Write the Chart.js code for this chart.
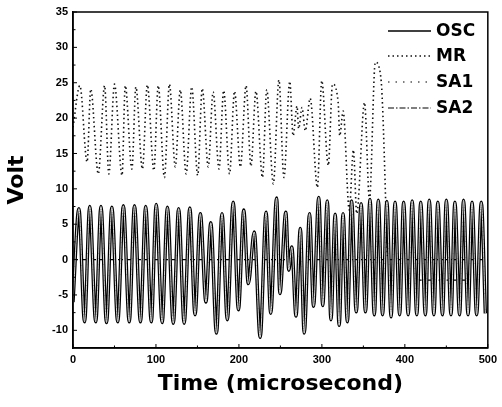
<!DOCTYPE html>
<html>
<head>
<meta charset="utf-8">
<script src="https://cdn.jsdelivr.net/npm/chart.js@4/dist/chart.umd.min.js"></script>
<style>
  html, body { margin: 0; padding: 0; background: #fff; }
  #wrap { width: 502px; height: 407px; }
</style>
</head>
<body>
<div id="wrap"><canvas id="c" width="502" height="407"></canvas></div>
<script>
// ---- data ----
const OSC_T = [0, 7.1, 13.9, 20.2, 27.4, 33.7, 40.4, 46.8, 53.9, 60.7, 67.8, 74.1, 81.3, 87.6, 94.4, 100.3, 107.5, 113.8, 120.9, 127.3,
  134.0, 140.8, 147.1, 153.5, 160.2, 166.1, 172.9, 179.6, 186.0, 193.1, 199.4, 205.8, 211.3, 218.5, 225.6, 232.7, 238.3, 245.4, 249.4, 256.5,
  260.1, 263.7, 268.8, 274.0, 278.7, 285.1, 289.9, 296.2, 301.0, 306.5, 310.9, 316.0, 320.8, 325.5, 330.7, 335.8, 341.4, 347.3, 352.5, 358.0,
  363.2, 368.0, 373.1, 378.3, 383.4, 388.2, 393.7, 398.5, 404.0, 408.8, 414.4, 419.1, 424.7, 429.4, 435.0, 439.7, 445.3, 450.0, 455.6, 460.3,
  465.9, 470.7, 476.2, 481.0, 486.5, 492.1, 497.0];
const OSC_V = [-6, 7.2, -8.8, 7.5, -8.8, 7.5, -8.9, 7.4, -8.8, 7.6, -8.8, 7.6, -8.8, 7.5, -8.8, 7.8, -8.9, 7.4, -9.0, 7.2,
  -9.0, 7.3, -7.8, 6.5, -6.0, 5.2, -10.4, 6.5, -8.5, 8.1, -7.1, 7.0, -3.4, 3.9, -11.0, 6.7, -7.6, 8.7, -4.8, 6.7,
  -1.5, 1.8, -8.0, 4.4, -10.4, 6.5, -6.6, 8.8, -6.5, 8.3, -8.5, 6.4, -9.3, 6.5, -8.8, 8.3, -7.4, 7.9, -7.4, 8.5,
  -7.8, 8.4, -7.8, 8.2, -8.1, 8.1, -7.8, 8.1, -7.8, 8.3, -7.8, 8.1, -7.8, 8.4, -7.8, 8.1, -7.8, 8.4, -7.8, 8.1,
  -7.8, 8.4, -7.8, 8.1, -7.8, 8.1, -7.6];

const MR_T = [0, 8.3, 17.0, 21.4, 30.5, 38.1, 43.2, 50.0, 59.1, 63.0, 71.0, 75.8, 83.7, 89.6, 97.5, 102.7, 110.2, 116.2, 123.3, 129.3,
  136.4, 143.1, 150.3, 155.8, 163.0, 168.9, 176.0, 181.6, 188.7, 194.7, 201.8, 208.6, 214.5, 220.5, 228.4, 233.5, 241.5, 248.2, 254.2, 261.3,
  265.3, 270.0, 272.0, 276.0, 280.0, 285.9, 294.6, 299.8, 307.7, 312.8, 319.6, 321.5, 325.6, 333.0, 338.0, 342.0, 351.4, 357.3, 364.4, 371.1,
  379.0];
const MR_V = [18.7, 24.6, 13.8, 24.1, 12.1, 24.6, 12.1, 24.8, 11.9, 24.6, 12.8, 24.4, 12.8, 24.7, 12.6, 24.6, 11.6, 24.8, 13.1, 24.0,
  12.1, 24.4, 11.9, 24.2, 13.1, 23.7, 12.8, 23.9, 12.1, 23.8, 13.1, 24.6, 13.2, 23.8, 11.6, 24.0, 10.7, 25.4, 11.6, 25.2,
  17.5, 21.7, 18.5, 21.5, 18.2, 22.8, 10.2, 25.3, 13.3, 24.8, 22.2, 17.5, 21.0, 7.0, 15.5, 6.5, 22.2, 8.5, 27.9, 25.7,
  0.5];

const SA1_T = [0, 500];
const SA1_V = [0, 0];
const SA2_T = [413, 475];
const SA2_V = [-2.9, -2.9];

const X_TICKS = [0, 100, 200, 300, 400, 500];
const Y_TICKS = [-10, -5, 0, 5, 10, 15, 20, 25, 30, 35];

const LABELS = ['OSC', 'MR', 'SA1', 'SA2'];

// ---- build ----
const pts = (t, v) => t.map((x, i) => ({ x: x, y: v[i] }));

const frameAndTicks = {
  id: 'frameAndTicks',
  afterDraw(chart) {
    const { ctx, chartArea: a, scales } = chart;
    ctx.save();
    ctx.strokeStyle = '#000';
    ctx.lineWidth = 1.5;
    ctx.strokeRect(a.left, a.top, a.right - a.left, a.bottom - a.top);
    ctx.lineWidth = 1;
    ctx.beginPath();
    for (let v = 0; v <= 500; v += 50) {
      const px = scales.x.getPixelForValue(v);
      const len = (v % 100 === 0) ? 4 : 2.5;
      ctx.moveTo(px, a.bottom); ctx.lineTo(px, a.bottom - len);
    }
    for (let v = -10; v <= 35; v += 2.5) {
      const py = scales.y.getPixelForValue(v);
      const len = (v % 5 === 0) ? 4 : 2.5;
      ctx.moveTo(a.left, py); ctx.lineTo(a.left + len, py);
    }
    ctx.stroke();
    ctx.restore();
  }
};

const insideLegend = {
  id: 'insideLegend',
  afterDraw(chart) {
    const { ctx } = chart;
    const rows = [31, 56, 82, 108];
    ctx.save();
    let r = 0;
    chart.data.datasets.forEach(ds => {
      if (!ds.label) return;
      const y = rows[r++];
      ctx.strokeStyle = ds.legendColor || ds.borderColor;
      ctx.lineWidth = ds.legendWidth || ds.borderWidth;
      ctx.setLineDash(ds.legendDash || ds.borderDash || []);
      ctx.beginPath();
      ctx.moveTo(388, y); ctx.lineTo(431, y);
      ctx.stroke();
      ctx.setLineDash([]);
      ctx.fillStyle = '#000';
      ctx.font = 'bold 17px "DejaVu Sans"';
      ctx.textBaseline = 'middle';
      ctx.textAlign = 'left';
      ctx.fillText(ds.label, 436, y + 1);
    });
    ctx.restore();
  }
};

new Chart(document.getElementById('c'), {
  type: 'line',
  data: {
    datasets: [
      { label: LABELS[0], data: pts(OSC_T, OSC_V), borderColor: '#000', borderWidth: 3.4, legendWidth: 1.6, cubicInterpolationMode: 'monotone', pointRadius: 0, order: 2 },
      // inner highlight of the same trace (gives the hollow, scanned look of the OSC curve)
      { label: '', data: pts(OSC_T, OSC_V), borderColor: '#d8d8d8', borderWidth: 1, cubicInterpolationMode: 'monotone', pointRadius: 0, order: 1 },
      { label: LABELS[1], data: pts(MR_T, MR_V), borderColor: '#111', borderWidth: 1.6, borderDash: [1.5, 3], legendWidth: 1.3, cubicInterpolationMode: 'monotone', pointRadius: 0, order: 3 },
      { label: LABELS[2], data: pts(SA1_T, SA1_V), borderColor: '#000', borderWidth: 1.2, borderDash: [5, 4], legendDash: [1.5, 6], pointRadius: 0, order: 4 },
      { label: LABELS[3], data: pts(SA2_T, SA2_V), borderColor: '#000', borderWidth: 1.2, borderDash: [6, 2, 1.5, 2], pointRadius: 0, order: 5 }
    ]
  },
  options: {
    responsive: false,
    animation: false,
    layout: { padding: { top: 12, right: 9, left: 0, bottom: 0 } },
    plugins: { legend: { display: false }, tooltip: { enabled: false } },
    scales: {
      x: {
        type: 'linear', min: 0, max: 500,
        afterFit(s) { s.height = 59; },
        afterBuildTicks(s) { s.ticks = X_TICKS.map(v => ({ value: v })); },
        grid: { display: false, drawTicks: false },
        border: { display: true, color: '#000', width: 1.5 },
        ticks: { padding: 5, color: '#000', font: { family: '"Liberation Sans"', weight: 'bold', size: 11 }, maxRotation: 0 },
        title: { display: true, text: 'Time (microsecond)', color: '#000', font: { family: '"DejaVu Sans"', weight: 'bold', size: 22 }, padding: { top: 0, bottom: 10 } }
      },
      y: {
        type: 'linear', min: -12.5, max: 35,
        afterFit(s) { s.width = 73; },
        afterBuildTicks(s) { s.ticks = Y_TICKS.map(v => ({ value: v })); },
        grid: { display: false, drawTicks: false },
        border: { display: true, color: '#000', width: 1.5 },
        ticks: { padding: 5, color: '#000', font: { family: '"Liberation Sans"', weight: 'bold', size: 11 } },
        title: { display: true, text: 'Volt', color: '#000', font: { family: '"DejaVu Sans"', weight: 'bold', size: 22 }, padding: { top: 4, bottom: 0 } }
      }
    }
  },
  plugins: [frameAndTicks, insideLegend]
});
</script>
</body>
</html>
